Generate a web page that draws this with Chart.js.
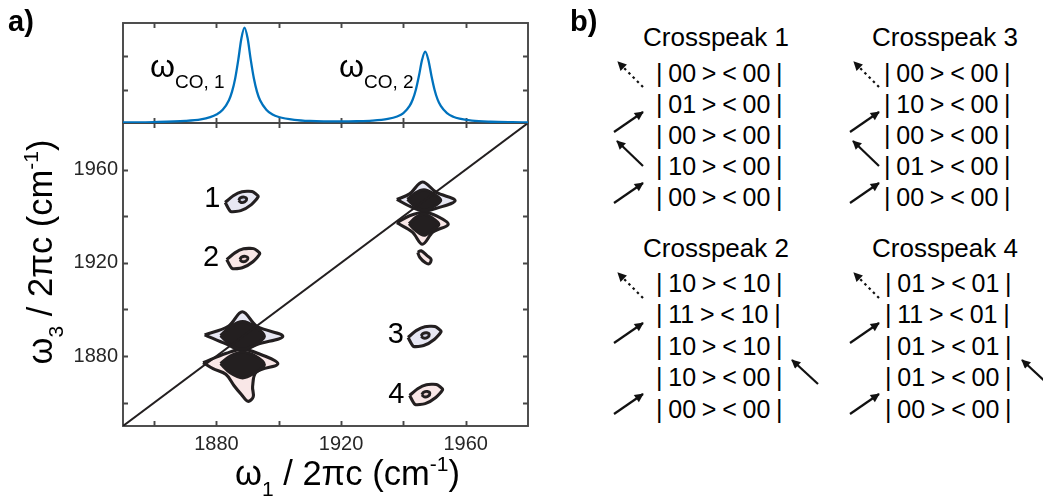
<!DOCTYPE html>
<html><head><meta charset="utf-8">
<script src="https://cdn.jsdelivr.net/npm/chart.js@4.4.1/dist/chart.umd.min.js"></script>
<style>
html,body{margin:0;padding:0;background:#fff;}
#wrap{position:relative;width:1043px;height:500px;overflow:hidden;font-family:'Liberation Sans',Arial,Helvetica,sans-serif;color:#000;}
.abs{position:absolute;white-space:nowrap;line-height:1;}
canvas{position:absolute;left:0;top:0;}
#main{z-index:1}#spec{z-index:2}
.t{z-index:3}
</style></head><body>
<div id="wrap">
<canvas id="main" width="560" height="500"></canvas>
<canvas id="spec" width="560" height="130"></canvas>
<div class="abs t" style="left:8px;top:7px;font-size:29px;font-weight:bold;">a)</div>
<div class="abs t" style="left:570px;top:7px;font-size:29px;font-weight:bold;">b)</div>
<div class="abs t" style="left:150px;top:50px;font-size:32px;line-height:32px;">ω<span style="font-size:19px;position:relative;top:11px;">CO, 1</span></div>
<div class="abs t" style="left:339px;top:50px;font-size:32px;line-height:32px;">ω<span style="font-size:19px;position:relative;top:11px;">CO, 2</span></div>
<div class="abs t" style="left:235px;top:455px;font-size:34.5px;line-height:36px;">ω<span style="font-size:21px;position:relative;top:11px;">1</span> / 2πc (cm<span style="font-size:21px;position:relative;top:-14px;">-1</span>)</div>
<div class="abs t" style="left:42px;top:252px;font-size:34.5px;line-height:36px;transform:translate(-50%,-50%) rotate(-90deg);">ω<span style="font-size:21px;position:relative;top:11px;">3</span> / 2πc (cm<span style="font-size:21px;position:relative;top:-14px;">-1</span>)</div>
<div id="panelb"></div>
<svg id="arrows" width="1043" height="500" style="position:absolute;left:0;top:0;z-index:3;">
<defs>
<marker id="ah" viewBox="0 0 10 10" refX="9" refY="5" markerWidth="11" markerHeight="9" markerUnits="userSpaceOnUse" orient="auto">
<path d="M0,0 L10,5 L0,10 z" fill="#111"/></marker>
</defs>
<g id="arrowG" stroke="#111" stroke-width="2.2" fill="none"></g>
</svg>
</div>
<script>
const FONT = "'Liberation Sans', Arial, Helvetica, sans-serif";
const INK = '#231f20';
const LAV = '#e7e7f3';
const PINK = '#f9e7e7';
const LAV_RING = '#cdcfe1';
const PINK_RING = '#e9cfcf';

// ---- linear spectrum (top panel) ----
const specX = [1850,1860,1870,1875,1878,1880,1882,1884,1885,1886,1887,1888,1889,1890,1891,1892,1893,1894,1896,1898,1900,1905,1910,1920,1925,1930,1935,1938,1940,1942,1943,1944,1945,1946,1947,1948,1949,1950,1951,1952,1954,1956,1958,1962,1968,1975,1980];
const specY = [0.008,0.014,0.031,0.054,0.087,0.126,0.197,0.342,0.47,0.666,0.947,1.268,1.43,1.27,0.95,0.67,0.47,0.34,0.20,0.126,0.09,0.048,0.031,0.023,0.026,0.035,0.061,0.098,0.148,0.256,0.352,0.499,0.708,0.949,1.07,0.95,0.71,0.50,0.35,0.256,0.148,0.094,0.065,0.036,0.019,0.011,0.008];
const specYMarks = [0.5, 1.0];

// ---- axes ----
const xMarks = [1860,1880,1900,1920,1940,1960];
const yMarks = [1860,1880,1900,1920,1940,1960];
const axisLabels = [1880,1920,1960];

// ---- 2D spectrum contours (x = ω1, y = ω3, cm-1) ----
const diagLine = [[1850,1850],[1980,1980]];
const d1UpperOuter = [[1876.2,1889.1],[1883.8,1892.8],[1888.3,1899.0],[1893.0,1892.8],[1901.3,1888.5],[1893.0,1885.0],[1888.3,1882.4],[1883.4,1885.0],[1876.2,1889.1]];
const d1UpperCore = [[1881.3,1888.8],[1884.3,1892.5],[1888.4,1894.8],[1892.5,1892.5],[1895.4,1888.5],[1892.5,1885.0],[1888.4,1882.9],[1884.3,1885.0],[1881.3,1888.8]];
const d1LowerOuter = [[1875.7,1877.2],[1883.2,1881.2],[1888.3,1883.0],[1893.2,1881.2],[1899.7,1876.7],[1892.8,1873.2],[1891.6,1867.0],[1891.8,1862.5],[1890.1,1860.6],[1888.0,1863.5],[1885.6,1867.4],[1883.0,1872.2],[1878.9,1874.6],[1875.7,1877.2]];
const d1LowerCore = [[1881.3,1876.7],[1884.4,1880.0],[1888.4,1881.6],[1892.5,1880.0],[1895.4,1876.3],[1892.3,1872.8],[1888.4,1870.6],[1884.4,1872.8],[1881.3,1876.7]];
const d2UpperOuter = [[1937.9,1947.2],[1942.0,1949.6],[1946.1,1954.7],[1950.6,1950.2],[1956.6,1946.7],[1950.6,1943.4],[1946.6,1942.2],[1942.3,1944.1],[1937.9,1947.2]];
const d2UpperCore = [[1941.3,1947.2],[1943.8,1950.0],[1946.6,1951.4],[1949.5,1949.8],[1952.0,1946.9],[1949.5,1944.0],[1946.6,1942.5],[1943.8,1944.2],[1941.3,1947.2]];
const d2LowerOuter = [[1937.9,1937.2],[1942.0,1940.2],[1946.6,1941.7],[1950.8,1940.0],[1954.4,1936.5],[1949.5,1933.2],[1946.1,1928.0],[1942.9,1933.2],[1937.9,1937.2]];
const d2LowerCore = [[1941.8,1936.8],[1944.0,1939.5],[1946.6,1940.8],[1949.2,1939.3],[1951.4,1936.5],[1949.0,1933.8],[1946.6,1931.8],[1944.0,1933.8],[1941.8,1936.8]];
const d2Tail = [[1944.6,1924.5],[1945.7,1925.2],[1947.6,1923.1],[1948.9,1921.5],[1948.3,1919.6],[1947.1,1920.0],[1945.3,1922.3],[1944.6,1924.5]];
const cp1Outer = [[1882.8,1945.9],[1885.4,1948.8],[1888.2,1950.5],[1891.4,1950.6],[1893.4,1948.5],[1891.2,1945.0],[1887.8,1942.4],[1884.5,1942.1],[1882.8,1945.9]];
const cp1Ring = [[1887.1,1946.8],[1887.7,1947.9],[1888.9,1948.2],[1889.7,1947.4],[1889.1,1946.2],[1887.9,1945.9],[1887.1,1946.8]];
const cp2Outer = [[1883.3,1921.4],[1885.9,1924.3],[1888.7,1926.0],[1891.9,1926.1],[1893.9,1924.0],[1891.7,1920.5],[1888.3,1917.9],[1885.0,1917.6],[1883.3,1921.4]];
const cp2Ring = [[1887.5,1921.4],[1888.1,1922.5],[1889.3,1922.8],[1890.1,1922.0],[1889.5,1920.8],[1888.3,1920.5],[1887.5,1921.4]];
const cp3Outer = [[1941.5,1888.0],[1944.1,1890.9],[1946.9,1892.6],[1950.1,1892.7],[1952.1,1890.6],[1949.9,1887.1],[1946.5,1884.5],[1943.2,1884.2],[1941.5,1888.0]];
const cp3Ring = [[1945.7,1888.6],[1946.3,1889.7],[1947.5,1890.0],[1948.3,1889.2],[1947.7,1888.0],[1946.5,1887.7],[1945.7,1888.6]];
const cp4Outer = [[1942.0,1863.1],[1944.6,1866.0],[1947.4,1867.7],[1950.6,1867.8],[1952.6,1865.7],[1950.4,1862.2],[1947.0,1859.6],[1943.7,1859.3],[1942.0,1863.1]];
const cp4Ring = [[1945.9,1863.4],[1946.5,1864.5],[1947.7,1864.8],[1948.5,1864.0],[1947.9,1862.8],[1946.7,1862.5],[1945.9,1863.4]];
const peakLabels = ['1','2','3','4'];
const peakLabelX = [1878.7,1878.3,1937.6,1937.7];
const peakLabelY = [1947.9,1922.6,1889.5,1863.7];

// ---- panel b ----
const cpTitles = ['Crosspeak 1','Crosspeak 3','Crosspeak 2','Crosspeak 4'];
const ketsCP1 = ['| 00 > < 00 |','| 01 > < 00 |','| 00 > < 00 |','| 10 > < 00 |','| 00 > < 00 |'];
const ketsCP3 = ['| 00 > < 00 |','| 10 > < 00 |','| 00 > < 00 |','| 01 > < 00 |','| 00 > < 00 |'];
const ketsCP2 = ['| 10 > < 10 |','| 11 > < 10 |','| 10 > < 10 |','| 10 > < 00 |','| 00 > < 00 |'];
const ketsCP4 = ['| 01 > < 01 |','| 11 > < 01 |','| 01 > < 01 |','| 01 > < 00 |','| 00 > < 00 |'];

// ---------- plugins ----------
const frameTicks = {
  id: 'frameTicks',
  beforeDatasetsDraw(chart, args, o) {
    const {ctx, chartArea: a, scales} = chart;
    ctx.save();
    ctx.strokeStyle = o.color; ctx.lineWidth = o.width;
    ctx.beginPath();
    for (const v of o.xTicks) {
      const px = Math.round(scales.x.getPixelForValue(v)) + 0.5;
      ctx.moveTo(px, a.bottom); ctx.lineTo(px, a.bottom - o.len);
      ctx.moveTo(px, a.top); ctx.lineTo(px, a.top + o.len);
    }
    for (const v of o.yTicks) {
      const py = Math.round(scales.y.getPixelForValue(v)) + 0.5;
      ctx.moveTo(a.left, py); ctx.lineTo(a.left + o.len, py);
      ctx.moveTo(a.right, py); ctx.lineTo(a.right - o.len, py);
    }
    ctx.stroke();
    ctx.strokeRect(a.left, a.top, a.right - a.left, a.bottom - a.top);
    ctx.restore();
  }
};
const peakText = {
  id: 'peakText',
  afterDatasetsDraw(chart) {
    const {ctx, scales} = chart;
    ctx.save();
    ctx.fillStyle = '#000';
    ctx.font = '29px ' + FONT;
    ctx.textAlign = 'center'; ctx.textBaseline = 'middle';
    peakLabels.forEach((t, i) => {
      ctx.fillText(t, scales.x.getPixelForValue(peakLabelX[i]), scales.y.getPixelForValue(peakLabelY[i]) + 1);
    });
    ctx.restore();
  }
};

const toPts = arr => arr.map(p => ({x: p[0], y: p[1]}));
function shape(pts, fillColor, order, bw, tension) {
  return {data: toPts(pts), showLine: true, fill: fillColor ? 'shape' : false,
    backgroundColor: fillColor || 'transparent', borderColor: INK, borderWidth: bw || 3,
    borderJoinStyle: 'round', pointRadius: 0, tension: tension === undefined ? 0.35 : tension, order: order};
}

// ---------- main 2D chart ----------
new Chart(document.getElementById('main'), {
  type: 'scatter',
  data: {datasets: [
    {data: toPts(diagLine), showLine: true, borderColor: INK, borderWidth: 2, pointRadius: 0, fill: false, order: 0},
    shape(cp1Ring, LAV_RING, 1, 2.9, 0.4), shape(cp2Ring, PINK_RING, 1, 2.9, 0.4),
    shape(cp3Ring, LAV_RING, 1, 2.9, 0.4), shape(cp4Ring, PINK_RING, 1, 2.9, 0.4),
    shape(d1UpperCore, INK, 2), shape(d1LowerCore, INK, 2),
    shape(d2UpperCore, INK, 2), shape(d2LowerCore, INK, 2),
    shape(d1UpperOuter, LAV, 3, 3.1), shape(d2UpperOuter, LAV, 3, 3.1),
    shape(d1LowerOuter, PINK, 4, 3.1), shape(d2LowerOuter, PINK, 4, 3.1), shape(d2Tail, PINK, 4, 3),
    shape(cp1Outer, LAV, 3, 3.1, 0.2), shape(cp2Outer, PINK, 3, 3.1, 0.2),
    shape(cp3Outer, LAV, 3, 3.1, 0.2), shape(cp4Outer, PINK, 3, 3.1, 0.2)
  ]},
  options: {
    responsive: false, animation: false, events: [],
    layout: {padding: {left: 0, top: 123, right: 32, bottom: 0}},
    plugins: {legend: {display: false}, tooltip: {enabled: false},
      frameTicks: {xTicks: xMarks, yTicks: yMarks, len: 5, color: '#474747', width: 1.9}},
    scales: {
      x: {type: 'linear', min: 1850, max: 1980,
        afterBuildTicks: s => { s.ticks = axisLabels.map(v => ({value: v})); },
        afterFit: s => { s.height = 74; },
        grid: {display: false, drawTicks: false}, border: {display: false},
        ticks: {font: {size: 20, family: FONT}, color: '#262626', padding: 6, maxRotation: 0, autoSkip: false,
          callback: v => String(v)}},
      y: {type: 'linear', min: 1850, max: 1980,
        afterBuildTicks: s => { s.ticks = axisLabels.map(v => ({value: v})); },
        afterFit: s => { s.width = 123; },
        grid: {display: false, drawTicks: false}, border: {display: false},
        ticks: {font: {size: 20, family: FONT}, color: '#262626', padding: 5, autoSkip: false,
          callback: v => String(v)}}
    }
  },
  plugins: [frameTicks, peakText]
});

// ---------- top linear spectrum ----------
new Chart(document.getElementById('spec'), {
  type: 'scatter',
  data: {datasets: [{
    data: specX.map((x, i) => ({x: x, y: specY[i]})),
    showLine: true, borderColor: '#0072BD', borderWidth: 2.3, pointRadius: 0,
    cubicInterpolationMode: 'monotone', fill: false
  }]},
  options: {
    responsive: false, animation: false, events: [],
    layout: {padding: {left: 123, top: 23, right: 32, bottom: 7}},
    plugins: {legend: {display: false}, tooltip: {enabled: false},
      frameTicks: {xTicks: xMarks, yTicks: specYMarks, len: 5, color: '#474747', width: 1.9}},
    scales: {
      x: {type: 'linear', display: false, min: 1850, max: 1980},
      y: {type: 'linear', display: false, min: 0, max: 1.5}
    }
  },
  plugins: [frameTicks]
});

// ---------- panel b text ----------
const pb = document.getElementById('panelb');
function addText(txt, left, cy, size, ws) {
  const d = document.createElement('div');
  d.className = 'abs t';
  d.style.left = left + 'px'; d.style.top = cy + 'px';
  d.style.fontSize = size + 'px';
  if (ws) d.style.wordSpacing = ws + 'px';
  d.style.transform = 'translateY(-50%)';
  d.textContent = txt;
  pb.appendChild(d);
}
const blocks = [
  {title: cpTitles[0], kets: ketsCP1, tx: 643, kx: 656, ty: 37, rows: [73,104,135,166,197]},
  {title: cpTitles[1], kets: ketsCP3, tx: 872, kx: 884, ty: 37, rows: [73,104,135,166,197]},
  {title: cpTitles[2], kets: ketsCP2, tx: 643, kx: 656, ty: 248, rows: [283,314,346,377,409]},
  {title: cpTitles[3], kets: ketsCP4, tx: 872, kx: 885, ty: 248, rows: [283,314,346,377,409]}
];
blocks.forEach(b => {
  addText(b.title, b.tx, b.ty, 26);
  b.kets.forEach((k, i) => addText(k, b.kx, b.rows[i], 25, -1.2));
});

// ---------- arrows ----------
const arrowsSolid = [
  [614,132,643,112],[643,166,617,141],[614,203,643,183],
  [850,132,879,112],[879,166,853,141],[850,203,879,183],
  [614,343,643,323],[614,414,643,394],[818,384,792,360],
  [850,343,879,323],[850,414,879,394],[1048,384,1022,360]
];
const arrowsDotted = [[643,87,618,62],[879,87,854,62],[643,298,618,273],[879,298,854,273]];
const g = document.getElementById('arrowG');
const NS = 'http://www.w3.org/2000/svg';
function addArrow(a, dotted) {
  const l = document.createElementNS(NS, 'line');
  l.setAttribute('x1', a[0]); l.setAttribute('y1', a[1]);
  l.setAttribute('x2', a[2]); l.setAttribute('y2', a[3]);
  l.setAttribute('marker-end', 'url(#ah)');
  if (dotted) { l.setAttribute('stroke-dasharray', '2.5 3.5'); }
  g.appendChild(l);
}
arrowsSolid.forEach(a => addArrow(a, false));
arrowsDotted.forEach(a => addArrow(a, true));
</script>
</body></html>
